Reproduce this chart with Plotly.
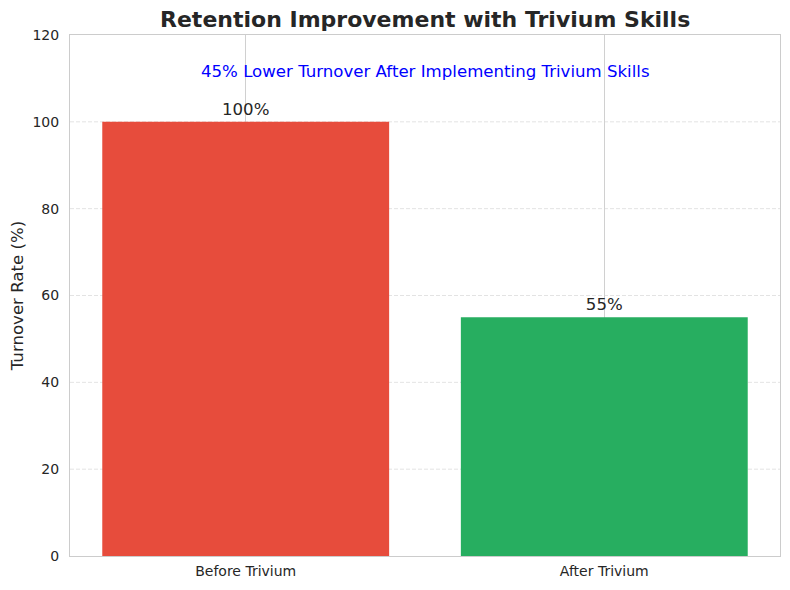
import plotly.graph_objects as go

# data
categories = ["Before Trivium", "After Trivium"]
turnover = [100, 55]
bar_colors = ["#e74c3c", "#27ae60"]
bar_labels = ["100%", "55%"]
y_ticks = [0, 20, 40, 60, 80, 100, 120]
note = "45% Lower Turnover After Implementing Trivium Skills"

FONT = "DejaVu Sans"
x_pos = list(range(len(categories)))

fig = go.Figure()

# dashed horizontal grid lines (matplotlib-style)
for t in y_ticks[1:-1]:
    fig.add_shape(type="line", xref="paper", yref="y", x0=0, x1=1, y0=t, y1=t,
                  line=dict(color="#dcdcdc", width=0.8, dash="4px,2px"), layer="below")

fig.add_trace(go.Bar(
    x=x_pos, y=turnover, width=0.8,
    marker=dict(color=bar_colors, line=dict(width=0)),
    text=bar_labels, textposition="outside", cliponaxis=False,
    textfont=dict(family=FONT, size=16.6, color="#262626"),
    showlegend=False, hoverinfo="skip",
))

fig.add_annotation(x=0.5, y=111.5, xref="x", yref="y", text=note, showarrow=False,
                   font=dict(family=FONT, size=16.6, color="blue"))

# page body has an 8px margin, so margins are shifted to compensate
fig.update_layout(
    width=790, height=590,
    margin=dict(l=62, r=18, t=27, b=42),
    paper_bgcolor="white", plot_bgcolor="white",
    font=dict(family=FONT, color="#262626"),
    title=dict(text="<b>Retention Improvement with Trivium Skills</b>",
               x=0.528, xanchor="center", y=0.981, yanchor="middle",
               font=dict(family=FONT, size=22, color="#262626")),
    bargap=0.2,
    xaxis=dict(range=[-0.49, 1.49], tickvals=x_pos, ticktext=categories,
               showgrid=True, gridcolor="#d0d0d0", gridwidth=1,
               showline=True, linecolor="#cccccc", mirror=True, zeroline=False,
               ticks="", ticklabelstandoff=2, automargin=False,
               tickfont=dict(family=FONT, size=14, color="#262626")),
    yaxis=dict(range=[0, 120], tickvals=y_ticks, showgrid=False,
               showline=True, linecolor="#cccccc", mirror=True, zeroline=False,
               ticks="", ticklabelstandoff=7, automargin=False,
               tickfont=dict(family=FONT, size=14, color="#262626"),
               title=dict(text="Turnover Rate (%)", font=dict(family=FONT, size=16.6, color="#262626"),
                          standoff=10)),
)

fig.write_html("out.html")
